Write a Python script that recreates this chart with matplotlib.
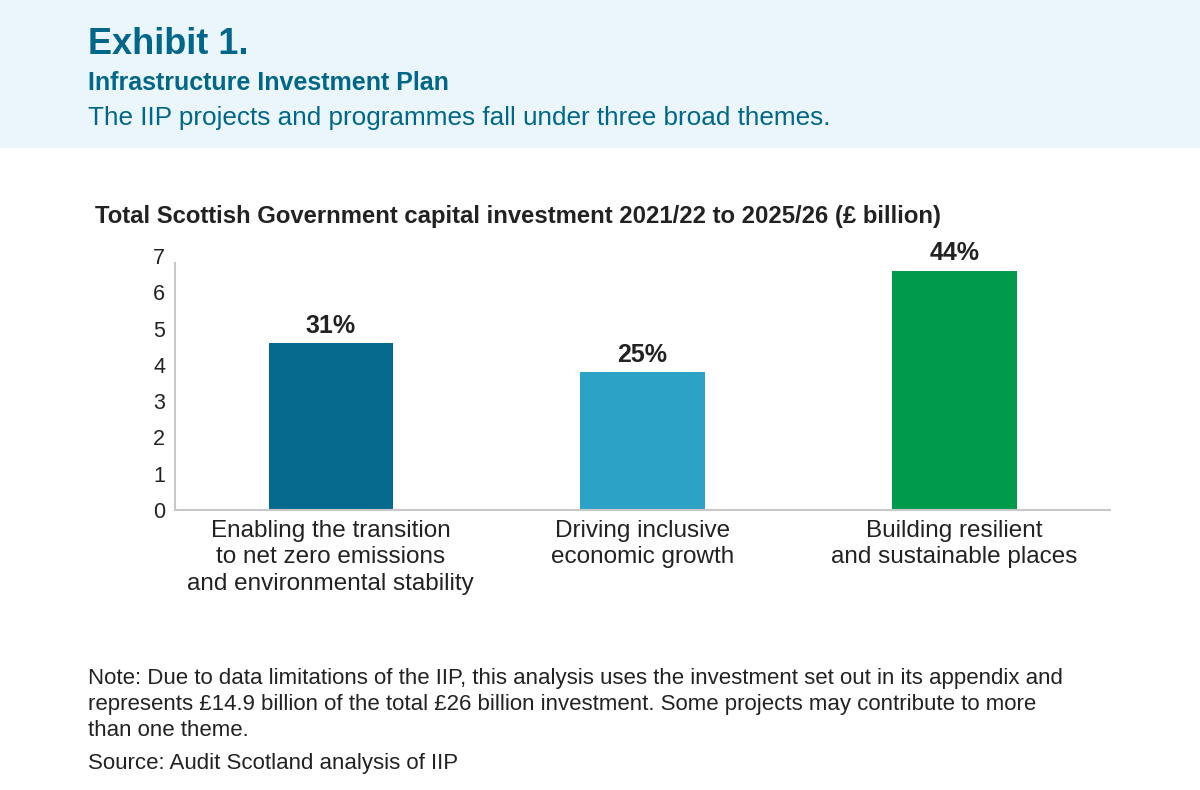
import matplotlib
matplotlib.use('Agg')
import matplotlib.pyplot as plt
import matplotlib.patches as mpatches
import numpy as np

# ── Data ──────────────────────────────────────────────────────────────────────
themes = ['Enabling the transition\nto net zero emissions\nand environmental stability',
          'Driving inclusive\neconomic growth',
          'Building resilient\nand sustainable places']
investment = [4.6, 3.8, 6.6]          # £ billion
shares = ['31%', '25%', '44%']
yticks = [0, 1, 2, 3, 4, 5, 6, 7]

note_lines = [
    'Note: Due to data limitations of the IIP, this analysis uses the investment set out in its appendix and',
    'represents £14.9 billion of the total £26 billion investment. Some projects may contribute to more',
    'than one theme.',
]
source = 'Source: Audit Scotland analysis of IIP'

# ── Colours ───────────────────────────────────────────────────────────────────
TEAL_DARK = '#00678A'
BAR_COLORS = ['#066A8E', '#2CA2C6', '#009A4C']
HEADER_BG = '#EAF6FB'
DARK = '#222222'
SPINE = '#C8C8C8'

plt.rcParams['font.family'] = ['Liberation Sans', 'DejaVu Sans']

W, H = 1200, 790
fig = plt.figure(figsize=(W / 100, H / 100), dpi=100)
fig.patch.set_facecolor('white')


def fx(x):
    return x / W


def fy(y):
    return 1 - y / H


# ── Header band ───────────────────────────────────────────────────────────────
fig.patches.append(mpatches.Rectangle((0, fy(148)), 1, 148 / H, transform=fig.transFigure,
                                      facecolor=HEADER_BG, edgecolor='none', zorder=0))
fig.text(fx(88), fy(54), 'Exhibit 1.', fontsize=26, fontweight='bold', color=TEAL_DARK,
         va='baseline', ha='left')
fig.text(fx(88), fy(90), 'Infrastructure Investment Plan', fontsize=18, fontweight='bold',
         color=TEAL_DARK, va='baseline', ha='left')
fig.text(fx(88), fy(125), 'The IIP projects and programmes fall under three broad themes.',
         fontsize=18.8, color=TEAL_DARK, va='baseline', ha='left')

# ── Chart ─────────────────────────────────────────────────────────────────────
fig.text(fx(95), fy(223), 'Total Scottish Government capital investment 2021/22 to 2025/26 (£ billion)',
         fontsize=17.2, fontweight='bold', color=DARK, va='baseline', ha='left')

ax = fig.add_axes([fx(175), fy(510), fx(1110) - fx(175), (510 - 256) / H])
x = np.arange(len(themes))
bars = ax.bar(x, investment, width=0.4, color=BAR_COLORS, zorder=2)
ax.set_xlim(-0.5, 2.5)
ax.set_ylim(0, 7)
ax.set_yticks(yticks)
ax.set_xticks(x)
ax.set_xticklabels(themes, fontsize=17.5, color=DARK, linespacing=1.28)
ax.tick_params(axis='y', length=0, labelsize=15.5, labelcolor=DARK, pad=7)
ax.tick_params(axis='x', length=0, pad=7)
ax.spines[['top', 'right']].set_visible(False)
ax.spines[['left', 'bottom']].set_color(SPINE)
ax.spines[['left', 'bottom']].set_linewidth(1.5)
ax.spines['left'].set_bounds(0, 6.8)
for bar, s in zip(bars, shares):
    ax.text(bar.get_x() + bar.get_width() / 2, bar.get_height() + 0.15, s,
            ha='center', va='bottom', fontsize=18, fontweight='bold', color=DARK)

# ── Notes ─────────────────────────────────────────────────────────────────────
for i, line in enumerate(note_lines):
    fig.text(fx(88), fy(684 + i * 26), line, fontsize=16, color=DARK,
             va='baseline', ha='left')
fig.text(fx(88), fy(769), source, fontsize=16, color=DARK, va='baseline', ha='left')

plt.savefig('out.png', dpi=100, facecolor=fig.get_facecolor())
